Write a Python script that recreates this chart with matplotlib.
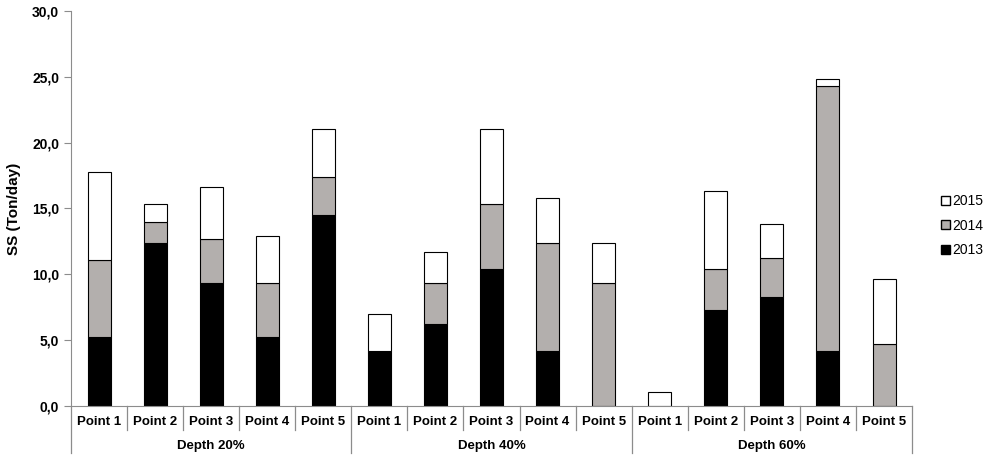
import numpy as np
import matplotlib
matplotlib.use('Agg')
import matplotlib.pyplot as plt
from matplotlib.patches import Patch

plt.rcParams['font.family'] = ['Liberation Sans', 'DejaVu Sans']

points = ['Point 1', 'Point 2', 'Point 3', 'Point 4', 'Point 5']
depths = ['Depth 20%', 'Depth 40%', 'Depth 60%']

# values per category (Depth 20%, then 40%, then 60%; Point 1..5 each)
y2013 = [5.2, 12.4, 9.3, 5.2, 14.5,
         4.2, 6.2, 10.4, 4.2, 0.0,
         0.0, 7.3, 8.3, 4.2, 0.0]
y2014 = [5.9, 1.6, 3.4, 4.1, 2.9,
         0.0, 3.1, 4.9, 8.2, 9.3,
         0.0, 3.1, 2.9, 20.1, 4.7]
y2015 = [6.7, 1.3, 3.9, 3.6, 3.6,
         2.8, 2.4, 5.7, 3.4, 3.1,
         1.05, 5.9, 2.6, 0.55, 4.9]

fig = plt.figure(figsize=(9.86, 4.58), dpi=100)
ax = fig.add_axes([0.072, 0.114, 0.853, 0.862])

x = np.arange(len(y2013))
w = 0.41
b2013 = np.array(y2013)
b2014 = np.array(y2014)
b2015 = np.array(y2015)
ax.bar(x, b2013, w, color='black', edgecolor='black', linewidth=0.8)
ax.bar(x, b2014, w, bottom=b2013, color='#b3afad', edgecolor='black', linewidth=0.8)
ax.bar(x, b2015, w, bottom=b2013 + b2014, color='white', edgecolor='black', linewidth=0.8)

ax.set_xlim(-0.5, len(x) - 0.5)
ax.set_ylim(0, 30)
ax.set_yticks(np.arange(0, 31, 5))
ax.set_yticklabels([f'{v:.1f}'.replace('.', ',') for v in np.arange(0, 31, 5)],
                   fontsize=10, fontweight='bold')
ax.set_ylabel('SS (Ton/day)', fontsize=11, fontweight='bold', labelpad=8)

for s in ['top', 'right']:
    ax.spines[s].set_visible(False)
for s in ['left', 'bottom']:
    ax.spines[s].set_color('#8c8c8c')
ax.tick_params(axis='y', color='#8c8c8c', length=5)

ax.set_xticks(x)
ax.set_xticklabels(points * 3, fontsize=9.5, fontweight='bold')
ax.tick_params(axis='x', length=0, pad=7)

trans = ax.get_xaxis_transform()
for b in np.arange(-0.5, len(x), 1.0):
    big = (b + 0.5) % 5 == 0
    depth = -47 / 395 if big else -24 / 395
    ax.plot([b, b], [0, depth], color='#8c8c8c', lw=0.9, transform=trans, clip_on=False)
for i, d in enumerate(depths):
    ax.text(i * 5 + 2, -0.103, d, transform=trans, ha='center', va='center',
            fontsize=9.5, fontweight='bold')

handles = [Patch(facecolor='white', edgecolor='black', label='2015'),
           Patch(facecolor='#b3afad', edgecolor='black', label='2014'),
           Patch(facecolor='black', edgecolor='black', label='2013')]
fig.legend(handles=handles, loc='center left', bbox_to_anchor=(0.942, 0.507),
           frameon=False, fontsize=10, handlelength=0.6, handleheight=0.6,
           handletextpad=0.2, labelspacing=0.75)

fig.savefig('out.png', dpi=100)
